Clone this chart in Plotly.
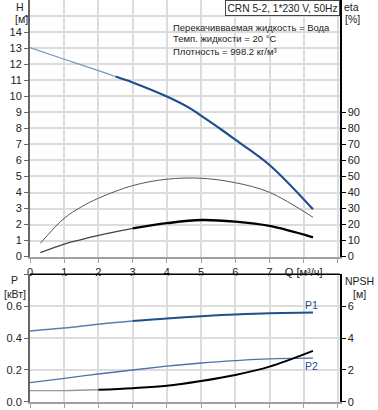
import plotly.graph_objects as go

# ---------------- data ----------------
Q_H = [0, 1, 2, 2.5, 3, 4, 4.68, 5, 5.6, 6, 7, 8.27]
H_m = [13.05, 12.33, 11.62, 11.25, 10.88, 10.0, 9.26, 8.8, 7.92, 7.3, 5.72, 2.95]

Q_ETA = [0.3, 1, 1.5, 2, 3, 4, 5, 6, 7, 8.27]
ETA_PUMP = [8.2, 23.9, 31.0, 36.4, 44.3, 48.3, 48.9, 46.1, 40.1, 24.5]
ETA_TOTAL = [2.4, 7.8, 10.6, 13.2, 17.6, 20.8, 22.8, 21.8, 19.1, 12.0]

Q_P = [0, 1, 2, 3, 4, 5, 6, 7, 8.27]
P1_kw = [0.444, 0.4625, 0.486, 0.506, 0.523, 0.537, 0.548, 0.556, 0.56]
P2_kw = [0.120, 0.147, 0.174, 0.199, 0.223, 0.243, 0.258, 0.269, 0.273]
NPSH_m = [0.70, 0.70, 0.75, 0.85, 1.0, 1.3, 1.68, 2.2, 3.19]

X_TICKS = [0, 1, 2, 3, 4, 5, 6, 7, 8, 9]
X_TICKTEXT = ["0", "1", "2", "3", "4", "5", "6", "7", "Q [м³/ч]", ""]
H_TICKS = list(range(0, 16))
H_TICKTEXT = [str(v) for v in range(0, 15)] + [""]
ETA_TICKS = list(range(0, 100, 10))
P_TICKS = [0, 0.2, 0.4, 0.6, 0.8]
P_TICKTEXT = ["0.0", "0.2", "0.4", "0.6", ""]
NPSH_TICKS = [0, 2, 4, 6]

TITLE = "CRN 5-2, 1*230 V, 50Hz"
INFO = ["Перекачивваемая жидкость = Вода", "Темп. жидкости = 20 °C", "Плотность = 998.2 кг/м³"]

# ---------------- layout helpers ----------------
W, Hh = 378, 410
FONT = "Liberation Sans, Arial, sans-serif"
def fx(p):
    return p / W
def fy(p):
    return 1 - p / Hh

XL, XR = 30, 340
TOP_B, TOP_T = 256.5, 0
BOT_B, BOT_T = 401.7, 274.3

BLUE = "#1f4f8d"
BLUE_L = "#7d96bd"
GRID = "#dcdcdc"

fig = go.Figure()

iH = Q_H.index(2.5)
fig.add_trace(go.Scatter(x=Q_H[:iH + 1], y=H_m[:iH + 1], mode="lines", xaxis="x", yaxis="y",
                         line=dict(color=BLUE_L, width=1.2, shape="spline")))
fig.add_trace(go.Scatter(x=Q_H[iH:], y=H_m[iH:], mode="lines", xaxis="x", yaxis="y",
                         line=dict(color=BLUE, width=2.2, shape="spline")))

fig.add_trace(go.Scatter(x=Q_ETA, y=ETA_PUMP, mode="lines", xaxis="x", yaxis="y2",
                         line=dict(color="#555555", width=1, shape="spline")))
iE = Q_ETA.index(3)
fig.add_trace(go.Scatter(x=Q_ETA[:iE + 1], y=ETA_TOTAL[:iE + 1], mode="lines", xaxis="x", yaxis="y2",
                         line=dict(color="#444444", width=1.3, shape="spline")))
fig.add_trace(go.Scatter(x=Q_ETA[iE:], y=ETA_TOTAL[iE:], mode="lines", xaxis="x", yaxis="y2",
                         line=dict(color="#000000", width=2.3, shape="spline")))

iP = Q_P.index(3)
fig.add_trace(go.Scatter(x=Q_P[:iP + 1], y=P1_kw[:iP + 1], mode="lines", xaxis="x2", yaxis="y3",
                         line=dict(color="#5a7fb0", width=1.5, shape="spline")))
fig.add_trace(go.Scatter(x=Q_P[iP:], y=P1_kw[iP:], mode="lines", xaxis="x2", yaxis="y3",
                         line=dict(color=BLUE, width=2, shape="spline")))
fig.add_trace(go.Scatter(x=Q_P, y=P2_kw, mode="lines", xaxis="x2", yaxis="y3",
                         line=dict(color="#4f72a8", width=1.3, shape="spline")))
iN = Q_P.index(2)
fig.add_trace(go.Scatter(x=Q_P[:iN + 1], y=NPSH_m[:iN + 1], mode="lines", xaxis="x2", yaxis="y4",
                         line=dict(color="#999999", width=1.3, shape="spline")))
fig.add_trace(go.Scatter(x=Q_P[iN:], y=NPSH_m[iN:], mode="lines", xaxis="x2", yaxis="y4",
                         line=dict(color="#000000", width=2, shape="spline")))

tickfont = dict(family=FONT, size=11, color="#222222")
common_x = dict(domain=[fx(XL), fx(XR)], range=[0, 9.06], tickvals=X_TICKS, showgrid=True,
                gridcolor=GRID, gridwidth=2, zeroline=False, showline=True, linecolor="#a0a0a0",
                linewidth=2, ticks="outside", ticklen=4, tickcolor="#a0a0a0", tickfont=tickfont,
                automargin=False)

fig.update_layout(
    width=W, height=Hh, margin=dict(l=0, r=0, t=0, b=0, pad=0, autoexpand=False),
    paper_bgcolor="white", plot_bgcolor="white", showlegend=False, hovermode=False,
    font=dict(family=FONT, size=11, color="#222222"),
    xaxis=dict(**common_x, anchor="y", ticktext=X_TICKTEXT),
    xaxis2=dict(**common_x, anchor="y3", showticklabels=False),
    yaxis=dict(domain=[fy(TOP_B), fy(TOP_T)], range=[0, 16.03], tickvals=H_TICKS, ticktext=H_TICKTEXT,
               showgrid=True, gridcolor=GRID, gridwidth=2, zeroline=False, showline=True,
               linecolor="#666666", linewidth=2, ticks="outside", ticklen=4, tickcolor="#666666",
               tickfont=tickfont, anchor="x", automargin=False),
    yaxis2=dict(overlaying="y", side="right", range=[0, 160.3], tickvals=ETA_TICKS, showgrid=False,
                zeroline=False, showline=True, linecolor="#000000", linewidth=1.5, ticks="outside",
                ticklen=4, tickcolor="#000000", tickfont=tickfont, anchor="x", automargin=False),
    yaxis3=dict(domain=[fy(BOT_B), fy(BOT_T)], range=[0, 0.8], tickvals=P_TICKS, ticktext=P_TICKTEXT,
                showgrid=True, gridcolor=GRID, gridwidth=2, zeroline=False, showline=True,
                linecolor="#666666", linewidth=2, ticks="outside", ticklen=4, tickcolor="#666666",
                tickfont=tickfont, anchor="x2", automargin=False),
    yaxis4=dict(overlaying="y3", side="right", range=[0, 8], tickvals=NPSH_TICKS, showgrid=False,
                zeroline=False, showline=True, linecolor="#000000", linewidth=1.5, ticks="outside",
                ticklen=4, tickcolor="#000000", tickfont=tickfont, anchor="x2", automargin=False),
)

shapes = [
    dict(type="line", xref="paper", yref="paper", x0=fx(XL), x1=fx(XR), y0=fy(BOT_T), y1=fy(BOT_T),
         line=dict(color="#000000", width=1.5), layer="above"),
    dict(type="rect", xref="paper", yref="paper", x0=fx(169), x1=fx(339), y0=fy(57), y1=fy(19.5),
         fillcolor="white", line=dict(width=0), layer="between"),
]
fig.update_layout(shapes=shapes)

ann = []
def label(text, x, y, xanchor="center", size=10.5, color="#222222", **kw):
    ann.append(dict(text=text, x=fx(x), y=fy(y), xref="paper", yref="paper", showarrow=False,
                    xanchor=xanchor, yanchor="middle", font=dict(family=FONT, size=size, color=color), **kw))

label("H", 20, 6.5)
label("[м]", 21, 18.5)
label("eta", 351, 6.5)
label("[%]", 352, 18.5)
label("P", 14, 280)
label("[кВт]", 15, 294)
label("NPSH", 359, 281)
label("[м]", 359, 294)
label("P1", 311.5, 305, color=BLUE)
label("P2", 311.5, 366, color=BLUE)
for i, t in enumerate(INFO):
    label(t, 170.5, 27 + 12 * i, xanchor="left", size=9.5)

ann.append(dict(text=TITLE, x=fx(339.5), y=1, xref="paper", yref="paper", showarrow=False,
                xanchor="right", yanchor="top", bgcolor="white", bordercolor="#444444", borderwidth=1,
                borderpad=1.5, font=dict(family=FONT, size=10.2, color="#222222")))
fig.update_layout(annotations=ann)

fig.write_html("out.html", config={"displayModeBar": False, "staticPlot": True},
               post_script="document.body.style.margin='0px';")
